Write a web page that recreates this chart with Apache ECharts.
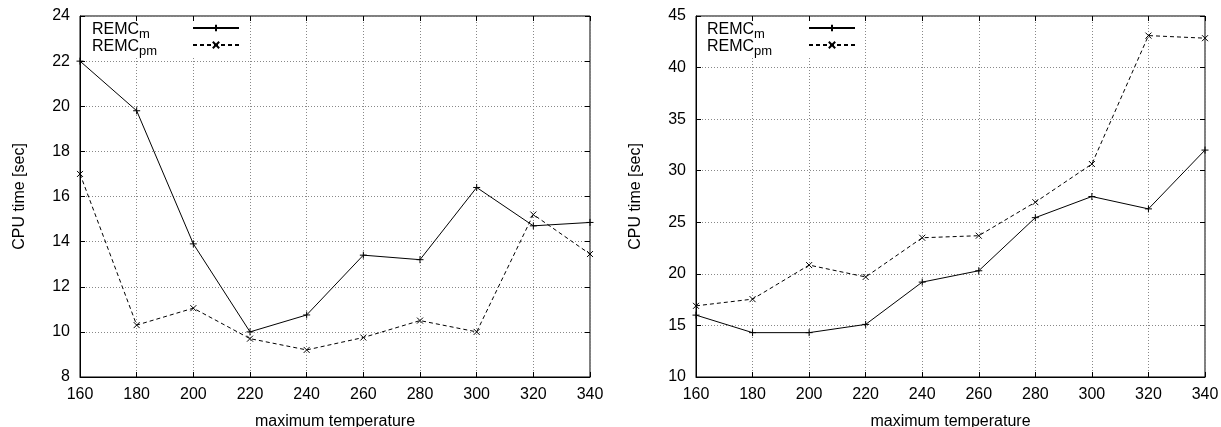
<!DOCTYPE html>
<html>
<head>
<meta charset="utf-8">
<script src="https://cdn.jsdelivr.net/npm/echarts@6/dist/echarts.min.js"></script>
<style>
  html, body { margin: 0; padding: 0; background: #fff; }
  #chart { width: 1221px; height: 427px; }
</style>
</head>
<body>
<div id="chart"></div>
<script>
// Maximum temperature settings (x axis)
const temperatures = [160, 180, 200, 220, 240, 260, 280, 300, 320, 340];

// CPU time [sec], left panel
const leftRemcM  = [22.0, 19.8, 13.9, 10.0, 10.75, 13.4, 13.2, 16.4, 14.7, 14.85];
const leftRemcPm = [17.0, 10.3, 11.05, 9.7, 9.2, 9.75, 10.5, 10.0, 15.2, 13.45];

// CPU time [sec], right panel
const rightRemcM  = [16.0, 14.3, 14.3, 15.1, 19.2, 20.3, 25.45, 27.5, 26.3, 32.0];
const rightRemcPm = [16.9, 17.55, 20.85, 19.7, 23.5, 23.7, 26.95, 30.65, 43.1, 42.85];

// Axis ranges / tick steps
const xRange = { min: 160, max: 340, interval: 20 };
const leftYRange = { min: 8, max: 24, interval: 2 };
const rightYRange = { min: 10, max: 45, interval: 5 };

const seriesNames = ['REMC_m', 'REMC_pm'];
const subscripts = { 'REMC_m': 'm', 'REMC_pm': 'pm' };

const FONT = 'Liberation Sans, Arial, Helvetica, sans-serif';
const plusPath = 'path://M5,0L5,10M0,5L10,5';
const crossPath = 'path://M0,0L10,10M10,0L0,10';

const panels = [
  { left: 80, width: 510, y: leftYRange, m: leftRemcM, pm: leftRemcPm, legendLeft: 81, padLeft: 11, textWidth: 96 },
  { left: 696, width: 509, y: rightYRange, m: rightRemcM, pm: rightRemcPm, legendLeft: 697, padLeft: 10, textWidth: 97 }
];

const grid = [], xAxis = [], yAxis = [], series = [], legend = [];

panels.forEach((p, k) => {
  grid.push({
    left: p.left, top: 16, width: p.width, height: 361,
    outerBoundsMode: 'none', containLabel: false,
    show: true, borderColor: '#000', borderWidth: 1, backgroundColor: 'transparent'
  });

  // bottom axis with labels
  xAxis.push({
    type: 'value', gridIndex: k, position: 'bottom',
    min: xRange.min, max: xRange.max, interval: xRange.interval,
    name: 'maximum temperature', nameLocation: 'middle', nameGap: 37,
    nameTextStyle: { fontFamily: FONT, fontSize: 16, color: '#000' },
    axisLine: { show: true, onZero: false, lineStyle: { color: '#000', width: 1 } },
    axisTick: { show: true, inside: true, length: 5, lineStyle: { color: '#000' } },
    axisLabel: { fontFamily: FONT, fontSize: 16, color: '#000', margin: 10 },
    splitLine: { show: true, lineStyle: { color: '#888', width: 1, type: [1, 2] } }
  });
  // mirrored top ticks
  xAxis.push({
    type: 'value', gridIndex: k, position: 'top',
    min: xRange.min, max: xRange.max, interval: xRange.interval,
    axisLine: { show: false },
    axisTick: { show: true, inside: true, length: 5, lineStyle: { color: '#000' } },
    axisLabel: { show: false }, splitLine: { show: false }, z: 20
  });

  yAxis.push({
    type: 'value', gridIndex: k, position: 'left',
    min: p.y.min, max: p.y.max, interval: p.y.interval,
    name: 'CPU time [sec]', nameLocation: 'middle', nameGap: 52, nameRotate: 90,
    nameTextStyle: { fontFamily: FONT, fontSize: 16, color: '#000' },
    axisLine: { show: true, onZero: false, lineStyle: { color: '#000', width: 1 } },
    axisTick: { show: true, inside: true, length: 5, lineStyle: { color: '#000' } },
    axisLabel: { fontFamily: FONT, fontSize: 16, color: '#000', margin: 10 },
    splitLine: { show: true, lineStyle: { color: '#888', width: 1, type: [1, 2] } }
  });
  // mirrored right ticks
  yAxis.push({
    type: 'value', gridIndex: k, position: 'right',
    min: p.y.min, max: p.y.max, interval: p.y.interval,
    axisLine: { show: false },
    axisTick: { show: true, inside: true, length: 5, lineStyle: { color: '#000' } },
    axisLabel: { show: false }, splitLine: { show: false }, z: 20
  });

  const xi = k * 2, yi = k * 2;
  series.push({
    name: 'REMC_m', type: 'line', xAxisIndex: xi, yAxisIndex: yi,
    data: temperatures.map((t, i) => [t, p.m[i]]),
    symbol: plusPath, symbolSize: 7, showSymbol: true,
    lineStyle: { color: '#000', width: 1, type: 'solid' },
    itemStyle: { color: '#000', borderColor: '#000', borderWidth: 1 },
    emphasis: { disabled: true }, animation: false
  });
  series.push({
    name: 'REMC_pm', type: 'line', xAxisIndex: xi, yAxisIndex: yi,
    data: temperatures.map((t, i) => [t, p.pm[i]]),
    symbol: crossPath, symbolSize: 6, showSymbol: true,
    lineStyle: { color: '#000', width: 1, type: [4, 3] },
    itemStyle: { color: '#000', borderColor: '#000', borderWidth: 1 },
    emphasis: { disabled: true }, animation: false
  });

  legend.push({
    orient: 'vertical', left: p.legendLeft, top: 17,
    padding: [4, 6, 0, p.padLeft], itemGap: -3,
    backgroundColor: '#fff', align: 'right',
    itemWidth: 46, itemHeight: 8,
    selectedMode: false, z: 10,
    data: seriesNames,
    formatter: name => '{a|REMC}{b|' + subscripts[name] + '}',
    textStyle: {
      width: p.textWidth, color: '#000',
      rich: {
        a: { fontFamily: FONT, fontSize: 16, lineHeight: 14, padding: [1, 0, 0, 0], verticalAlign: 'top', align: 'left', color: '#000' },
        b: { fontFamily: FONT, fontSize: 13, lineHeight: 13, padding: [7, 0, 0, 0], verticalAlign: 'top', align: 'left', color: '#000' }
      }
    }
  });
});

const chart = echarts.init(document.getElementById('chart'), null, { renderer: 'canvas' });
chart.setOption({
  backgroundColor: '#fff',
  animation: false,
  textStyle: { fontFamily: FONT },
  grid, xAxis, yAxis, series, legend
});
</script>
</body>
</html>
